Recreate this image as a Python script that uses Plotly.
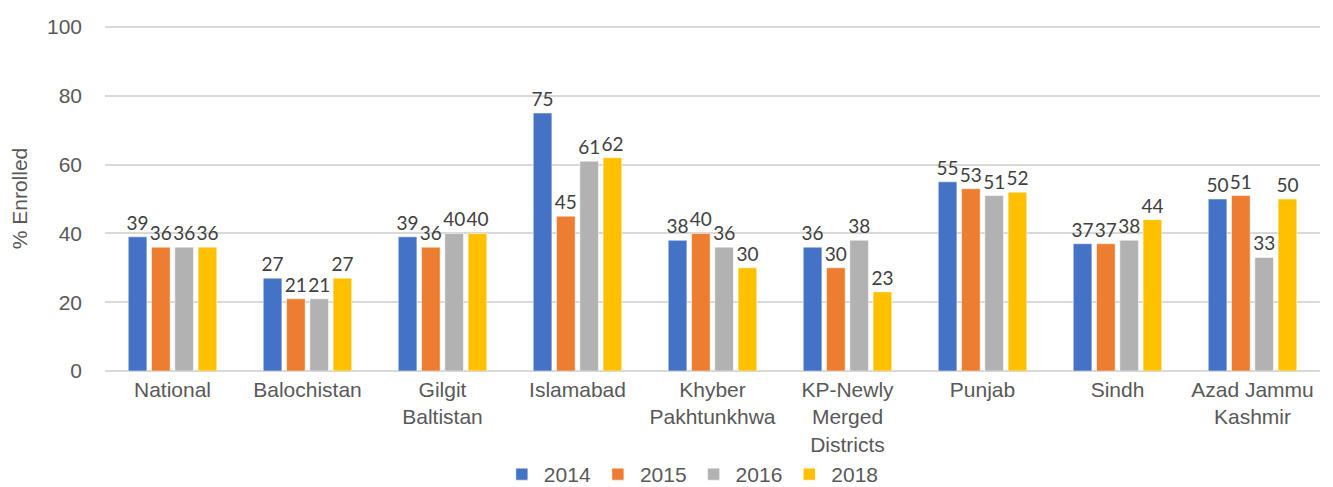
import plotly.graph_objects as go

# Dados
regioes = [
    "National", "Balochistan", "Gilgit<br>Baltistan", "Islamabad",
    "Khyber<br>Pakhtunkhwa", "KP-Newly<br>Merged<br>Districts",
    "Punjab", "Sindh", "Azad Jammu<br>Kashmir",
]
anos = ["2014", "2015", "2016", "2018"]

v2014 = [39, 27, 39, 75, 38, 36, 55, 37, 50]
v2015 = [36, 21, 36, 45, 40, 30, 53, 37, 51]
v2016 = [36, 21, 40, 61, 36, 38, 51, 38, 33]
v2018 = [36, 27, 40, 62, 30, 23, 52, 44, 50]

CORES = ["#4472C4", "#ED7D31", "#B2B2B2", "#FFC000"]

fig = go.Figure()
for ano, valores, cor in zip(anos, [v2014, v2015, v2016, v2018], CORES):
    fig.add_trace(go.Bar(
        x=regioes,
        y=valores,
        name=ano,
        marker=dict(color=cor, line=dict(color="white", width=0.5)),
        text=valores,
        textposition="outside",
        constraintext="none",
        cliponaxis=False,
        textfont=dict(color="#404040", size=19, family="Lato, sans-serif"),
    ))

fig.update_layout(
    width=1333,
    height=487,
    barmode="group",
    bargap=0.31,
    bargroupgap=0.2,
    paper_bgcolor="white",
    plot_bgcolor="white",
    font=dict(family="Liberation Sans, Arial, sans-serif", color="#595959", size=21),
    margin=dict(l=97, r=21, t=18, b=124, autoexpand=False),
    legend=dict(
        orientation="h",
        x=0.483, xanchor="center",
        yref="container",
        y=0.0, yanchor="bottom",
        font=dict(size=21, color="#595959"),
        itemwidth=34,
    ),
    showlegend=True,
)
fig.update_xaxes(showgrid=False, showline=False, ticks="", automargin=False,
                 ticklabelstandoff=4, tickfont=dict(size=21))
fig.update_yaxes(
    range=[0, 100.3],
    tickvals=[0, 20, 40, 60, 80, 100],
    showgrid=True,
    gridcolor="#D9D9D9",
    gridwidth=1.5,
    zeroline=True,
    zerolinecolor="#D9D9D9",
    zerolinewidth=1.5,
    automargin=False,
    ticklabelstandoff=22,
    tickfont=dict(size=21),
    title=dict(text="% Enrolled", font=dict(size=21, color="#595959"), standoff=22),
)

fig.write_html("out.html")
